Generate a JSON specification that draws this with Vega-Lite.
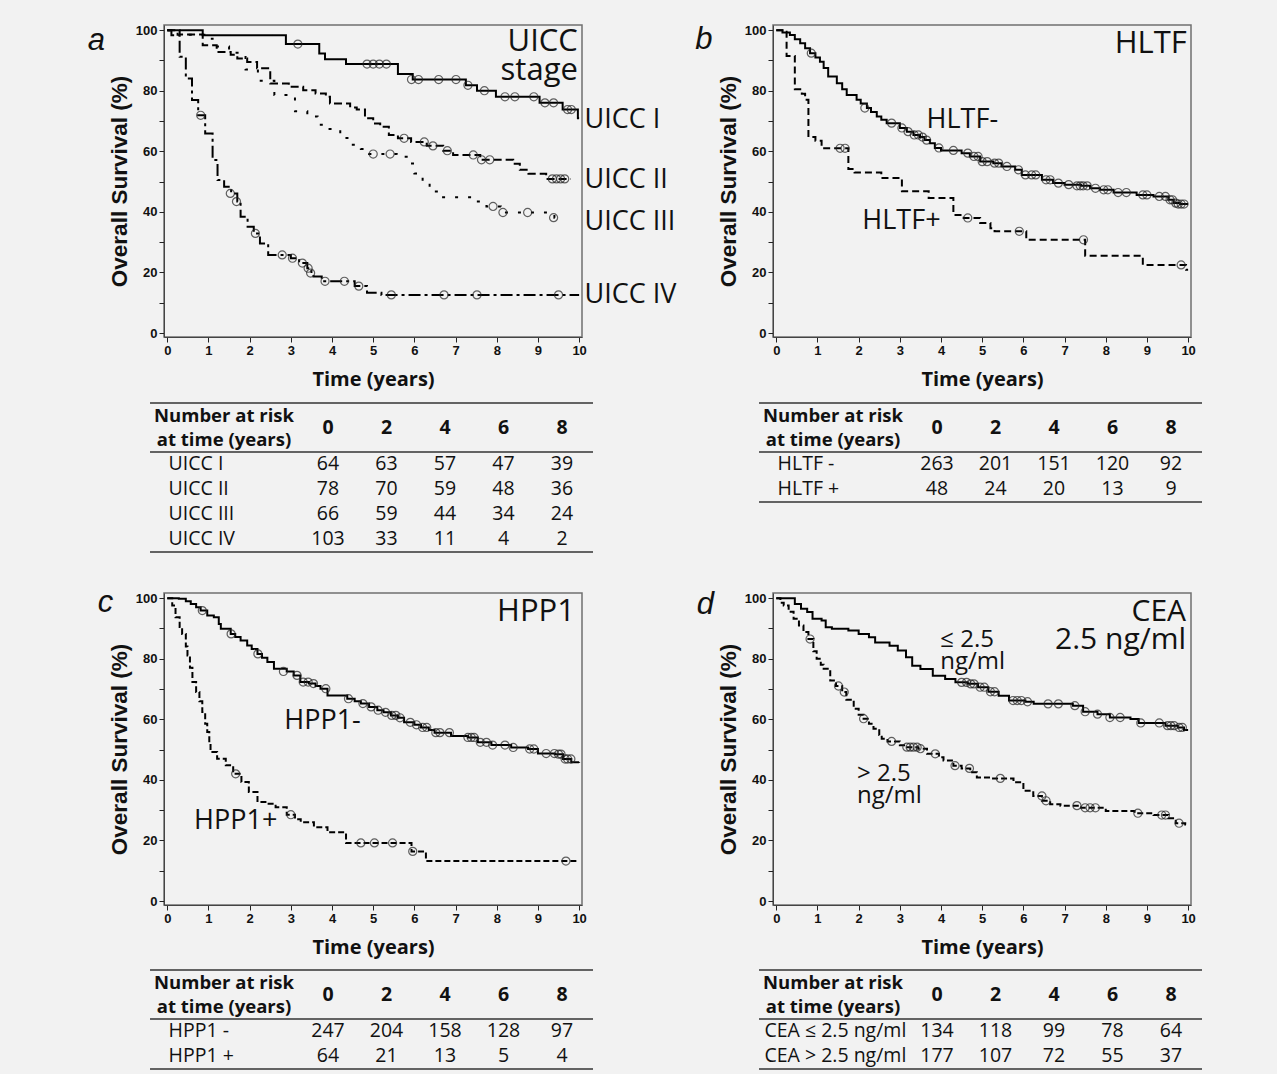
{
"$schema": "https://vega.github.io/schema/vega-lite/v6.json",
"background": "#f2f2f2",
"padding": {"left": 87, "top": 23, "right": 74, "bottom": 4},
"config": {
  "view": {"stroke": "#707070", "strokeWidth": 1.5},
  "axis": {"grid": false, "domainColor": "#444", "tickColor": "#222", "labelColor": "#111", "titleColor": "#111"},
  "text": {"font": "Open Sans", "color": "#111"}
},
"resolve": {"scale": {"strokeDash": "independent"}},
"datasets": {
"curves": [
{"p":"a","g":"UICC I","t":0,"s":100},{"p":"a","g":"UICC I","t":0.86,"s":98.3},{"p":"a","g":"UICC I","t":2.88,"s":95.4},{"p":"a","g":"UICC I","t":3.69,"s":92.3},{"p":"a","g":"UICC I","t":3.83,"s":90.4},{"p":"a","g":"UICC I","t":4.34,"s":88.8},{"p":"a","g":"UICC I","t":5.6,"s":85.5},{"p":"a","g":"UICC I","t":5.96,"s":83.7},{"p":"a","g":"UICC I","t":7.25,"s":81.8},{"p":"a","g":"UICC I","t":7.52,"s":80},{"p":"a","g":"UICC I","t":7.98,"s":78},{"p":"a","g":"UICC I","t":9.04,"s":76},{"p":"a","g":"UICC I","t":9.6,"s":73.8},{"p":"a","g":"UICC I","t":9.97,"s":70.9},{"p":"a","g":"UICC I","t":10,"s":70.9},
{"p":"a","g":"UICC II","t":0,"s":100},{"p":"a","g":"UICC II","t":0.3,"s":98.6},{"p":"a","g":"UICC II","t":0.86,"s":95},{"p":"a","g":"UICC II","t":1.2,"s":92.8},{"p":"a","g":"UICC II","t":1.54,"s":91.9},{"p":"a","g":"UICC II","t":1.7,"s":90.6},{"p":"a","g":"UICC II","t":1.94,"s":89.5},{"p":"a","g":"UICC II","t":2.18,"s":87.4},{"p":"a","g":"UICC II","t":2.5,"s":82.4},{"p":"a","g":"UICC II","t":2.95,"s":81.3},{"p":"a","g":"UICC II","t":3.3,"s":80.2},{"p":"a","g":"UICC II","t":3.6,"s":79.1},{"p":"a","g":"UICC II","t":3.85,"s":78},{"p":"a","g":"UICC II","t":3.95,"s":75.8},{"p":"a","g":"UICC II","t":4.44,"s":74.5},{"p":"a","g":"UICC II","t":4.6,"s":73.8},{"p":"a","g":"UICC II","t":4.8,"s":70.9},{"p":"a","g":"UICC II","t":5.0,"s":69.2},{"p":"a","g":"UICC II","t":5.17,"s":68.1},{"p":"a","g":"UICC II","t":5.38,"s":65.4},{"p":"a","g":"UICC II","t":5.6,"s":64.3},{"p":"a","g":"UICC II","t":5.92,"s":63.1},{"p":"a","g":"UICC II","t":6.3,"s":61.8},{"p":"a","g":"UICC II","t":6.7,"s":60.2},{"p":"a","g":"UICC II","t":6.94,"s":58.8},{"p":"a","g":"UICC II","t":7.6,"s":57.2},{"p":"a","g":"UICC II","t":8.4,"s":55.9},{"p":"a","g":"UICC II","t":8.56,"s":53.9},{"p":"a","g":"UICC II","t":8.77,"s":52.6},{"p":"a","g":"UICC II","t":9.2,"s":50.9},{"p":"a","g":"UICC II","t":9.8,"s":50.9},
{"p":"a","g":"UICC III","t":0,"s":100},{"p":"a","g":"UICC III","t":0.25,"s":98.5},{"p":"a","g":"UICC III","t":0.9,"s":97.2},{"p":"a","g":"UICC III","t":1.1,"s":94.6},{"p":"a","g":"UICC III","t":1.5,"s":92.5},{"p":"a","g":"UICC III","t":1.9,"s":87},{"p":"a","g":"UICC III","t":2.2,"s":83.3},{"p":"a","g":"UICC III","t":2.6,"s":78.6},{"p":"a","g":"UICC III","t":3.1,"s":73.2},{"p":"a","g":"UICC III","t":3.4,"s":71.5},{"p":"a","g":"UICC III","t":3.65,"s":68.8},{"p":"a","g":"UICC III","t":3.9,"s":67.4},{"p":"a","g":"UICC III","t":4.2,"s":64.4},{"p":"a","g":"UICC III","t":4.45,"s":62.2},{"p":"a","g":"UICC III","t":4.7,"s":60.8},{"p":"a","g":"UICC III","t":4.9,"s":59.1},{"p":"a","g":"UICC III","t":5.57,"s":58.2},{"p":"a","g":"UICC III","t":5.85,"s":56},{"p":"a","g":"UICC III","t":6.0,"s":52.7},{"p":"a","g":"UICC III","t":6.2,"s":50},{"p":"a","g":"UICC III","t":6.37,"s":46.7},{"p":"a","g":"UICC III","t":6.6,"s":44.8},{"p":"a","g":"UICC III","t":7.5,"s":43.4},{"p":"a","g":"UICC III","t":7.75,"s":41.8},{"p":"a","g":"UICC III","t":8.1,"s":39.8},{"p":"a","g":"UICC III","t":9.3,"s":39},{"p":"a","g":"UICC III","t":9.4,"s":38.1},{"p":"a","g":"UICC III","t":9.53,"s":37.4},{"p":"a","g":"UICC III","t":9.6,"s":37.4},
{"p":"a","g":"UICC IV","t":0,"s":100},{"p":"a","g":"UICC IV","t":0.1,"s":98.3},{"p":"a","g":"UICC IV","t":0.3,"s":91.2},{"p":"a","g":"UICC IV","t":0.45,"s":84},{"p":"a","g":"UICC IV","t":0.6,"s":76.9},{"p":"a","g":"UICC IV","t":0.75,"s":71.9},{"p":"a","g":"UICC IV","t":0.92,"s":65.9},{"p":"a","g":"UICC IV","t":1.1,"s":57.1},{"p":"a","g":"UICC IV","t":1.22,"s":50.5},{"p":"a","g":"UICC IV","t":1.38,"s":48.3},{"p":"a","g":"UICC IV","t":1.55,"s":46.1},{"p":"a","g":"UICC IV","t":1.7,"s":43.4},{"p":"a","g":"UICC IV","t":1.78,"s":38.4},{"p":"a","g":"UICC IV","t":1.95,"s":35.1},{"p":"a","g":"UICC IV","t":2.1,"s":32.9},{"p":"a","g":"UICC IV","t":2.25,"s":29.6},{"p":"a","g":"UICC IV","t":2.45,"s":25.8},{"p":"a","g":"UICC IV","t":3.0,"s":24.7},{"p":"a","g":"UICC IV","t":3.2,"s":23.1},{"p":"a","g":"UICC IV","t":3.4,"s":21.4},{"p":"a","g":"UICC IV","t":3.5,"s":19.8},{"p":"a","g":"UICC IV","t":3.55,"s":18.7},{"p":"a","g":"UICC IV","t":3.75,"s":17.1},{"p":"a","g":"UICC IV","t":4.55,"s":15.5},{"p":"a","g":"UICC IV","t":4.85,"s":13.3},{"p":"a","g":"UICC IV","t":5.2,"s":12.6},{"p":"a","g":"UICC IV","t":10,"s":12.6},
{"p":"b","g":"HLTF-","t":0,"s":100},{"p":"b","g":"HLTF-","t":0.15,"s":99.2},{"p":"b","g":"HLTF-","t":0.33,"s":98.4},{"p":"b","g":"HLTF-","t":0.45,"s":97},{"p":"b","g":"HLTF-","t":0.58,"s":95.7},{"p":"b","g":"HLTF-","t":0.7,"s":94},{"p":"b","g":"HLTF-","t":0.82,"s":92.4},{"p":"b","g":"HLTF-","t":0.95,"s":91},{"p":"b","g":"HLTF-","t":1.06,"s":89.6},{"p":"b","g":"HLTF-","t":1.15,"s":87.5},{"p":"b","g":"HLTF-","t":1.26,"s":84.7},{"p":"b","g":"HLTF-","t":1.47,"s":82.5},{"p":"b","g":"HLTF-","t":1.6,"s":80.5},{"p":"b","g":"HLTF-","t":1.71,"s":78.6},{"p":"b","g":"HLTF-","t":1.95,"s":77},{"p":"b","g":"HLTF-","t":2.05,"s":75.8},{"p":"b","g":"HLTF-","t":2.2,"s":74.3},{"p":"b","g":"HLTF-","t":2.3,"s":73},{"p":"b","g":"HLTF-","t":2.44,"s":71.5},{"p":"b","g":"HLTF-","t":2.55,"s":70.4},{"p":"b","g":"HLTF-","t":2.68,"s":69.3},{"p":"b","g":"HLTF-","t":3.0,"s":67.7},{"p":"b","g":"HLTF-","t":3.17,"s":66.5},{"p":"b","g":"HLTF-","t":3.33,"s":65.4},{"p":"b","g":"HLTF-","t":3.49,"s":64.7},{"p":"b","g":"HLTF-","t":3.6,"s":63.7},{"p":"b","g":"HLTF-","t":3.73,"s":62.7},{"p":"b","g":"HLTF-","t":3.85,"s":61.1},{"p":"b","g":"HLTF-","t":4.0,"s":60.3},{"p":"b","g":"HLTF-","t":4.5,"s":59.4},{"p":"b","g":"HLTF-","t":4.7,"s":58.3},{"p":"b","g":"HLTF-","t":4.95,"s":56.6},{"p":"b","g":"HLTF-","t":5.27,"s":56.1},{"p":"b","g":"HLTF-","t":5.47,"s":55},{"p":"b","g":"HLTF-","t":5.8,"s":53.9},{"p":"b","g":"HLTF-","t":5.96,"s":52.2},{"p":"b","g":"HLTF-","t":6.45,"s":50.6},{"p":"b","g":"HLTF-","t":6.72,"s":49.5},{"p":"b","g":"HLTF-","t":7.0,"s":49},{"p":"b","g":"HLTF-","t":7.4,"s":48.6},{"p":"b","g":"HLTF-","t":7.62,"s":47.8},{"p":"b","g":"HLTF-","t":7.86,"s":47.3},{"p":"b","g":"HLTF-","t":8.19,"s":46.4},{"p":"b","g":"HLTF-","t":8.75,"s":45.6},{"p":"b","g":"HLTF-","t":9.16,"s":45.1},{"p":"b","g":"HLTF-","t":9.52,"s":44},{"p":"b","g":"HLTF-","t":9.65,"s":42.9},{"p":"b","g":"HLTF-","t":9.8,"s":42.6},{"p":"b","g":"HLTF-","t":10,"s":42.6},
{"p":"b","g":"HLTF+","t":0,"s":100},{"p":"b","g":"HLTF+","t":0.22,"s":99.5},{"p":"b","g":"HLTF+","t":0.25,"s":91.5},{"p":"b","g":"HLTF+","t":0.45,"s":80.5},{"p":"b","g":"HLTF+","t":0.62,"s":79},{"p":"b","g":"HLTF+","t":0.7,"s":77},{"p":"b","g":"HLTF+","t":0.78,"s":64.7},{"p":"b","g":"HLTF+","t":0.95,"s":63.5},{"p":"b","g":"HLTF+","t":1.1,"s":61},{"p":"b","g":"HLTF+","t":1.75,"s":54.2},{"p":"b","g":"HLTF+","t":1.9,"s":53},{"p":"b","g":"HLTF+","t":2.55,"s":51.2},{"p":"b","g":"HLTF+","t":3.05,"s":46.8},{"p":"b","g":"HLTF+","t":3.7,"s":44.6},{"p":"b","g":"HLTF+","t":4.3,"s":39},{"p":"b","g":"HLTF+","t":4.55,"s":38},{"p":"b","g":"HLTF+","t":4.95,"s":36.3},{"p":"b","g":"HLTF+","t":5.2,"s":34.6},{"p":"b","g":"HLTF+","t":5.3,"s":33.6},{"p":"b","g":"HLTF+","t":6.07,"s":30.8},{"p":"b","g":"HLTF+","t":7.5,"s":25.5},{"p":"b","g":"HLTF+","t":8.9,"s":22.5},{"p":"b","g":"HLTF+","t":9.95,"s":20.9},{"p":"b","g":"HLTF+","t":10,"s":20.9},
{"p":"c","g":"HPP1-","t":0,"s":100},{"p":"c","g":"HPP1-","t":0.28,"s":99.8},{"p":"c","g":"HPP1-","t":0.45,"s":99},{"p":"c","g":"HPP1-","t":0.57,"s":98.1},{"p":"c","g":"HPP1-","t":0.7,"s":97},{"p":"c","g":"HPP1-","t":0.81,"s":95.9},{"p":"c","g":"HPP1-","t":0.97,"s":94.3},{"p":"c","g":"HPP1-","t":1.13,"s":93.7},{"p":"c","g":"HPP1-","t":1.25,"s":91.5},{"p":"c","g":"HPP1-","t":1.3,"s":89.9},{"p":"c","g":"HPP1-","t":1.54,"s":88.2},{"p":"c","g":"HPP1-","t":1.65,"s":87.2},{"p":"c","g":"HPP1-","t":1.78,"s":86},{"p":"c","g":"HPP1-","t":1.94,"s":84.4},{"p":"c","g":"HPP1-","t":2.05,"s":83.2},{"p":"c","g":"HPP1-","t":2.19,"s":81.6},{"p":"c","g":"HPP1-","t":2.3,"s":80.3},{"p":"c","g":"HPP1-","t":2.43,"s":78.9},{"p":"c","g":"HPP1-","t":2.59,"s":76.7},{"p":"c","g":"HPP1-","t":2.9,"s":75.8},{"p":"c","g":"HPP1-","t":3.07,"s":74.5},{"p":"c","g":"HPP1-","t":3.23,"s":72.3},{"p":"c","g":"HPP1-","t":3.44,"s":71.8},{"p":"c","g":"HPP1-","t":3.6,"s":71},{"p":"c","g":"HPP1-","t":3.72,"s":70.1},{"p":"c","g":"HPP1-","t":3.89,"s":67.9},{"p":"c","g":"HPP1-","t":4.37,"s":66.8},{"p":"c","g":"HPP1-","t":4.55,"s":66},{"p":"c","g":"HPP1-","t":4.7,"s":65.2},{"p":"c","g":"HPP1-","t":4.9,"s":64.1},{"p":"c","g":"HPP1-","t":5.1,"s":63},{"p":"c","g":"HPP1-","t":5.25,"s":62.3},{"p":"c","g":"HPP1-","t":5.43,"s":61.3},{"p":"c","g":"HPP1-","t":5.6,"s":60.5},{"p":"c","g":"HPP1-","t":5.75,"s":59},{"p":"c","g":"HPP1-","t":6.0,"s":58.2},{"p":"c","g":"HPP1-","t":6.16,"s":57.3},{"p":"c","g":"HPP1-","t":6.35,"s":56.5},{"p":"c","g":"HPP1-","t":6.49,"s":55.6},{"p":"c","g":"HPP1-","t":6.89,"s":54.5},{"p":"c","g":"HPP1-","t":7.3,"s":54},{"p":"c","g":"HPP1-","t":7.54,"s":52.4},{"p":"c","g":"HPP1-","t":7.87,"s":51.5},{"p":"c","g":"HPP1-","t":8.35,"s":50.7},{"p":"c","g":"HPP1-","t":8.76,"s":50.2},{"p":"c","g":"HPP1-","t":9.0,"s":48.7},{"p":"c","g":"HPP1-","t":9.41,"s":48.5},{"p":"c","g":"HPP1-","t":9.61,"s":46.9},{"p":"c","g":"HPP1-","t":9.81,"s":45.8},{"p":"c","g":"HPP1-","t":10,"s":45.6},
{"p":"c","g":"HPP1+","t":0,"s":100},{"p":"c","g":"HPP1+","t":0.12,"s":97.6},{"p":"c","g":"HPP1+","t":0.2,"s":93.7},{"p":"c","g":"HPP1+","t":0.3,"s":90.5},{"p":"c","g":"HPP1+","t":0.36,"s":88.2},{"p":"c","g":"HPP1+","t":0.45,"s":84},{"p":"c","g":"HPP1+","t":0.49,"s":81.1},{"p":"c","g":"HPP1+","t":0.55,"s":77},{"p":"c","g":"HPP1+","t":0.61,"s":72.3},{"p":"c","g":"HPP1+","t":0.7,"s":69},{"p":"c","g":"HPP1+","t":0.78,"s":66},{"p":"c","g":"HPP1+","t":0.85,"s":62.4},{"p":"c","g":"HPP1+","t":0.92,"s":58.5},{"p":"c","g":"HPP1+","t":0.97,"s":55.8},{"p":"c","g":"HPP1+","t":1.02,"s":52},{"p":"c","g":"HPP1+","t":1.05,"s":49.2},{"p":"c","g":"HPP1+","t":1.21,"s":47},{"p":"c","g":"HPP1+","t":1.42,"s":44.8},{"p":"c","g":"HPP1+","t":1.6,"s":42},{"p":"c","g":"HPP1+","t":1.8,"s":39.3},{"p":"c","g":"HPP1+","t":1.98,"s":36},{"p":"c","g":"HPP1+","t":2.19,"s":32.7},{"p":"c","g":"HPP1+","t":2.43,"s":32.1},{"p":"c","g":"HPP1+","t":2.63,"s":31},{"p":"c","g":"HPP1+","t":2.9,"s":28.5},{"p":"c","g":"HPP1+","t":3.1,"s":27},{"p":"c","g":"HPP1+","t":3.24,"s":26},{"p":"c","g":"HPP1+","t":3.56,"s":24.4},{"p":"c","g":"HPP1+","t":3.89,"s":22.7},{"p":"c","g":"HPP1+","t":4.34,"s":19.2},{"p":"c","g":"HPP1+","t":5.93,"s":16.4},{"p":"c","g":"HPP1+","t":6.28,"s":13.2},{"p":"c","g":"HPP1+","t":10,"s":13.2},
{"p":"d","g":"le","t":0,"s":100},{"p":"d","g":"le","t":0.45,"s":98.1},{"p":"d","g":"le","t":0.6,"s":96.5},{"p":"d","g":"le","t":0.75,"s":95.4},{"p":"d","g":"le","t":0.88,"s":93.2},{"p":"d","g":"le","t":1.1,"s":92.6},{"p":"d","g":"le","t":1.2,"s":90.4},{"p":"d","g":"le","t":1.35,"s":89.9},{"p":"d","g":"le","t":1.75,"s":89.3},{"p":"d","g":"le","t":2.0,"s":88.2},{"p":"d","g":"le","t":2.25,"s":87.1},{"p":"d","g":"le","t":2.4,"s":85.4},{"p":"d","g":"le","t":2.75,"s":84.3},{"p":"d","g":"le","t":2.95,"s":82.7},{"p":"d","g":"le","t":3.15,"s":80.5},{"p":"d","g":"le","t":3.3,"s":77.7},{"p":"d","g":"le","t":3.5,"s":76.6},{"p":"d","g":"le","t":3.8,"s":74.4},{"p":"d","g":"le","t":4.1,"s":73.3},{"p":"d","g":"le","t":4.35,"s":72.2},{"p":"d","g":"le","t":4.65,"s":71.7},{"p":"d","g":"le","t":4.9,"s":70.6},{"p":"d","g":"le","t":5.15,"s":69.1},{"p":"d","g":"le","t":5.4,"s":67.8},{"p":"d","g":"le","t":5.65,"s":66.2},{"p":"d","g":"le","t":6.05,"s":65.8},{"p":"d","g":"le","t":6.25,"s":65.1},{"p":"d","g":"le","t":7.2,"s":64.5},{"p":"d","g":"le","t":7.45,"s":62.5},{"p":"d","g":"le","t":7.8,"s":61.7},{"p":"d","g":"le","t":8.1,"s":60.6},{"p":"d","g":"le","t":8.6,"s":60.1},{"p":"d","g":"le","t":8.8,"s":58.8},{"p":"d","g":"le","t":9.45,"s":57.9},{"p":"d","g":"le","t":9.75,"s":57.3},{"p":"d","g":"le","t":9.9,"s":56.5},{"p":"d","g":"le","t":10,"s":56.5},
{"p":"d","g":"gt","t":0,"s":100},{"p":"d","g":"gt","t":0.1,"s":98.5},{"p":"d","g":"gt","t":0.18,"s":97.6},{"p":"d","g":"gt","t":0.3,"s":95.5},{"p":"d","g":"gt","t":0.42,"s":93.2},{"p":"d","g":"gt","t":0.55,"s":91},{"p":"d","g":"gt","t":0.66,"s":88.8},{"p":"d","g":"gt","t":0.78,"s":86.5},{"p":"d","g":"gt","t":0.9,"s":82.5},{"p":"d","g":"gt","t":0.98,"s":80},{"p":"d","g":"gt","t":1.08,"s":78},{"p":"d","g":"gt","t":1.15,"s":76.7},{"p":"d","g":"gt","t":1.31,"s":72.8},{"p":"d","g":"gt","t":1.45,"s":71},{"p":"d","g":"gt","t":1.6,"s":69},{"p":"d","g":"gt","t":1.7,"s":66.5},{"p":"d","g":"gt","t":1.88,"s":63.5},{"p":"d","g":"gt","t":2.0,"s":61.5},{"p":"d","g":"gt","t":2.12,"s":60.2},{"p":"d","g":"gt","t":2.25,"s":58.5},{"p":"d","g":"gt","t":2.36,"s":56.9},{"p":"d","g":"gt","t":2.5,"s":54.8},{"p":"d","g":"gt","t":2.56,"s":53.6},{"p":"d","g":"gt","t":2.7,"s":52.7},{"p":"d","g":"gt","t":3.0,"s":51.4},{"p":"d","g":"gt","t":3.15,"s":50.8},{"p":"d","g":"gt","t":3.45,"s":50.3},{"p":"d","g":"gt","t":3.66,"s":48.6},{"p":"d","g":"gt","t":3.95,"s":47.5},{"p":"d","g":"gt","t":4.06,"s":46.4},{"p":"d","g":"gt","t":4.3,"s":44.7},{"p":"d","g":"gt","t":4.5,"s":43.8},{"p":"d","g":"gt","t":4.71,"s":42.5},{"p":"d","g":"gt","t":4.87,"s":40.8},{"p":"d","g":"gt","t":5.2,"s":40.5},{"p":"d","g":"gt","t":5.76,"s":39.2},{"p":"d","g":"gt","t":6.0,"s":36.4},{"p":"d","g":"gt","t":6.24,"s":34.7},{"p":"d","g":"gt","t":6.45,"s":33.1},{"p":"d","g":"gt","t":6.65,"s":32},{"p":"d","g":"gt","t":6.9,"s":31.5},{"p":"d","g":"gt","t":7.4,"s":30.8},{"p":"d","g":"gt","t":8.0,"s":29.7},{"p":"d","g":"gt","t":8.7,"s":29},{"p":"d","g":"gt","t":9.16,"s":28.4},{"p":"d","g":"gt","t":9.52,"s":27.3},{"p":"d","g":"gt","t":9.7,"s":25.7},{"p":"d","g":"gt","t":9.93,"s":25.3},{"p":"d","g":"gt","t":10,"s":25.3}
],
"cens": [
{"p":"a","t":3.17,"s":95.4},{"p":"a","t":4.85,"s":88.8},{"p":"a","t":5.0,"s":88.8},{"p":"a","t":5.15,"s":88.8},{"p":"a","t":5.32,"s":88.8},{"p":"a","t":5.93,"s":83.7},{"p":"a","t":6.1,"s":83.7},{"p":"a","t":6.59,"s":83.7},{"p":"a","t":7.01,"s":83.7},{"p":"a","t":7.3,"s":81.8},{"p":"a","t":7.7,"s":80},{"p":"a","t":8.2,"s":78},{"p":"a","t":8.44,"s":78},{"p":"a","t":8.9,"s":78},{"p":"a","t":9.17,"s":76},{"p":"a","t":9.38,"s":76},{"p":"a","t":9.72,"s":73.8},{"p":"a","t":9.81,"s":73.8},
{"p":"a","t":5.75,"s":64.3},{"p":"a","t":6.24,"s":63.1},{"p":"a","t":6.45,"s":61.8},{"p":"a","t":6.8,"s":60.2},{"p":"a","t":7.43,"s":58.8},{"p":"a","t":7.63,"s":57.2},{"p":"a","t":7.83,"s":57.2},{"p":"a","t":9.35,"s":50.9},{"p":"a","t":9.45,"s":50.9},{"p":"a","t":9.55,"s":50.9},{"p":"a","t":9.65,"s":50.9},
{"p":"a","t":5.0,"s":59.1},{"p":"a","t":5.41,"s":59.1},{"p":"a","t":7.91,"s":41.8},{"p":"a","t":8.15,"s":39.8},{"p":"a","t":8.75,"s":39.8},{"p":"a","t":9.38,"s":38.1},
{"p":"a","t":0.81,"s":71.9},{"p":"a","t":1.53,"s":46.1},{"p":"a","t":1.68,"s":43.4},{"p":"a","t":2.14,"s":32.9},{"p":"a","t":2.79,"s":25.8},{"p":"a","t":3.04,"s":24.7},{"p":"a","t":3.28,"s":23.1},{"p":"a","t":3.42,"s":21.4},{"p":"a","t":3.48,"s":19.8},{"p":"a","t":3.83,"s":17.1},{"p":"a","t":4.3,"s":17.1},{"p":"a","t":4.65,"s":15.5},{"p":"a","t":5.44,"s":12.6},{"p":"a","t":6.72,"s":12.6},{"p":"a","t":7.52,"s":12.6},{"p":"a","t":9.5,"s":12.6},
{"p":"b","t":0.85,"s":92.4},{"p":"b","t":2.15,"s":74.3},{"p":"b","t":2.8,"s":69.3},{"p":"b","t":3.05,"s":67.7},{"p":"b","t":3.2,"s":66.5},{"p":"b","t":3.35,"s":65.4},{"p":"b","t":3.45,"s":65.4},{"p":"b","t":3.55,"s":64.7},{"p":"b","t":3.65,"s":63.7},{"p":"b","t":3.95,"s":61.1},{"p":"b","t":4.3,"s":60.3},{"p":"b","t":4.65,"s":59.4},{"p":"b","t":4.8,"s":58.3},{"p":"b","t":4.9,"s":58.3},{"p":"b","t":5.0,"s":56.6},{"p":"b","t":5.12,"s":56.6},{"p":"b","t":5.3,"s":56.1},{"p":"b","t":5.4,"s":56.1},{"p":"b","t":5.6,"s":55},{"p":"b","t":5.88,"s":53.9},{"p":"b","t":6.05,"s":52.2},{"p":"b","t":6.2,"s":52.2},{"p":"b","t":6.3,"s":52.2},{"p":"b","t":6.55,"s":50.6},{"p":"b","t":6.65,"s":50.6},{"p":"b","t":6.85,"s":49.5},{"p":"b","t":7.1,"s":49},{"p":"b","t":7.3,"s":48.6},{"p":"b","t":7.38,"s":48.6},{"p":"b","t":7.45,"s":48.6},{"p":"b","t":7.55,"s":48.6},{"p":"b","t":7.75,"s":47.8},{"p":"b","t":7.95,"s":47.3},{"p":"b","t":8.05,"s":47.3},{"p":"b","t":8.3,"s":46.4},{"p":"b","t":8.5,"s":46.4},{"p":"b","t":8.9,"s":45.6},{"p":"b","t":9.0,"s":45.6},{"p":"b","t":9.3,"s":45.1},{"p":"b","t":9.45,"s":45.1},{"p":"b","t":9.56,"s":44},{"p":"b","t":9.62,"s":44},{"p":"b","t":9.7,"s":42.9},{"p":"b","t":9.76,"s":42.6},{"p":"b","t":9.83,"s":42.6},{"p":"b","t":9.9,"s":42.6},
{"p":"b","t":1.55,"s":61},{"p":"b","t":1.67,"s":61},{"p":"b","t":4.65,"s":38},{"p":"b","t":5.9,"s":33.6},{"p":"b","t":7.46,"s":30.8},{"p":"b","t":9.83,"s":22.5},
{"p":"c","t":0.85,"s":95.9},{"p":"c","t":1.55,"s":88.2},{"p":"c","t":2.2,"s":81.6},{"p":"c","t":2.82,"s":75.8},{"p":"c","t":3.15,"s":74.5},{"p":"c","t":3.3,"s":72.3},{"p":"c","t":3.42,"s":72.3},{"p":"c","t":3.55,"s":71.8},{"p":"c","t":3.85,"s":70.1},{"p":"c","t":4.4,"s":66.8},{"p":"c","t":4.75,"s":65.2},{"p":"c","t":4.95,"s":64.1},{"p":"c","t":5.12,"s":63},{"p":"c","t":5.3,"s":62.3},{"p":"c","t":5.45,"s":61.3},{"p":"c","t":5.55,"s":61.3},{"p":"c","t":5.65,"s":60.5},{"p":"c","t":5.9,"s":59},{"p":"c","t":6.05,"s":58.2},{"p":"c","t":6.2,"s":57.3},{"p":"c","t":6.3,"s":57.3},{"p":"c","t":6.52,"s":55.6},{"p":"c","t":6.62,"s":55.6},{"p":"c","t":6.85,"s":55.6},{"p":"c","t":7.3,"s":54},{"p":"c","t":7.38,"s":54},{"p":"c","t":7.45,"s":54},{"p":"c","t":7.6,"s":52.4},{"p":"c","t":7.75,"s":52.4},{"p":"c","t":7.9,"s":51.5},{"p":"c","t":8.2,"s":51.5},{"p":"c","t":8.4,"s":50.7},{"p":"c","t":8.8,"s":50.2},{"p":"c","t":8.9,"s":50.2},{"p":"c","t":9.2,"s":48.7},{"p":"c","t":9.4,"s":48.7},{"p":"c","t":9.5,"s":48.5},{"p":"c","t":9.56,"s":48.5},{"p":"c","t":9.66,"s":46.9},{"p":"c","t":9.72,"s":46.9},{"p":"c","t":9.8,"s":46.9},
{"p":"c","t":1.66,"s":42},{"p":"c","t":3.0,"s":28.5},{"p":"c","t":4.7,"s":19.2},{"p":"c","t":5.03,"s":19.2},{"p":"c","t":5.47,"s":19.2},{"p":"c","t":5.96,"s":16.4},{"p":"c","t":9.68,"s":13.2},
{"p":"d","t":4.5,"s":72.2},{"p":"d","t":4.62,"s":72.2},{"p":"d","t":4.72,"s":71.7},{"p":"d","t":4.8,"s":71.7},{"p":"d","t":4.95,"s":70.6},{"p":"d","t":5.05,"s":70.6},{"p":"d","t":5.2,"s":69.1},{"p":"d","t":5.3,"s":69.1},{"p":"d","t":5.75,"s":66.2},{"p":"d","t":5.85,"s":66.2},{"p":"d","t":5.95,"s":66.2},{"p":"d","t":6.1,"s":65.8},{"p":"d","t":6.6,"s":65.1},{"p":"d","t":6.85,"s":65.1},{"p":"d","t":7.25,"s":64.5},{"p":"d","t":7.5,"s":62.5},{"p":"d","t":7.8,"s":61.7},{"p":"d","t":8.1,"s":60.6},{"p":"d","t":8.35,"s":60.6},{"p":"d","t":8.85,"s":58.8},{"p":"d","t":9.3,"s":58.8},{"p":"d","t":9.5,"s":57.9},{"p":"d","t":9.58,"s":57.9},{"p":"d","t":9.66,"s":57.9},{"p":"d","t":9.78,"s":57.3},{"p":"d","t":9.86,"s":57.3},
{"p":"d","t":0.82,"s":86.5},{"p":"d","t":1.51,"s":71},{"p":"d","t":1.65,"s":69},{"p":"d","t":2.12,"s":60.2},{"p":"d","t":2.8,"s":52.7},{"p":"d","t":3.17,"s":50.8},{"p":"d","t":3.25,"s":50.8},{"p":"d","t":3.33,"s":50.8},{"p":"d","t":3.42,"s":50.8},{"p":"d","t":3.5,"s":50.3},{"p":"d","t":3.86,"s":48.6},{"p":"d","t":4.34,"s":44.7},{"p":"d","t":4.69,"s":43.8},{"p":"d","t":5.44,"s":40.5},{"p":"d","t":6.45,"s":34.7},{"p":"d","t":6.55,"s":33.1},{"p":"d","t":7.3,"s":31.5},{"p":"d","t":7.5,"s":30.8},{"p":"d","t":7.62,"s":30.8},{"p":"d","t":7.75,"s":30.8},{"p":"d","t":8.78,"s":29},{"p":"d","t":9.36,"s":28.4},{"p":"d","t":9.45,"s":28.4},{"p":"d","t":9.78,"s":25.7}
],
"notes": [
{"p":"a","k":"title","t":9.97,"s":93.1,"txt":"UICC\nstage"},
{"p":"a","k":"curve","t":10.13,"s":67.6,"txt":"UICC I"},{"p":"a","k":"curve","t":10.13,"s":47.8,"txt":"UICC II"},{"p":"a","k":"curve","t":10.13,"s":34.0,"txt":"UICC III"},{"p":"a","k":"curve","t":10.13,"s":9.8,"txt":"UICC IV"},
{"p":"a","k":"letter","t":-1.93,"s":93.4,"txt":"a"},
{"p":"b","k":"title","t":9.97,"s":92.4,"txt":"HLTF"},
{"p":"b","k":"curve","t":3.65,"s":67.6,"txt":"HLTF-"},{"p":"b","k":"curve","t":2.09,"s":34.3,"txt":"HLTF+"},
{"p":"b","k":"letter","t":-1.97,"s":93.7,"txt":"b"},
{"p":"c","k":"title","t":9.9,"s":92.3,"txt":"HPP1"},
{"p":"c","k":"curve","t":2.84,"s":56.8,"txt":"HPP1-"},{"p":"c","k":"curve","t":0.65,"s":23.7,"txt":"HPP1+"},
{"p":"c","k":"letter","t":-1.69,"s":95.3,"txt":"c"},
{"p":"d","k":"title","t":9.95,"s":92.3,"txt":"CEA\n2.5 ng/ml"},
{"p":"d","k":"small","t":3.98,"s":84.0,"txt":"≤ 2.5\nng/ml"},
{"p":"d","k":"small","t":1.96,"s":39.7,"txt":"> 2.5\nng/ml"},
{"p":"d","k":"letter","t":-1.93,"s":94.9,"txt":"d"}
],
"risk": [
{"p":"a","row":1,"col":0,"v":"64"},{"p":"a","row":1,"col":2,"v":"63"},{"p":"a","row":1,"col":4,"v":"57"},{"p":"a","row":1,"col":6,"v":"47"},{"p":"a","row":1,"col":8,"v":"39"},
{"p":"a","row":2,"col":0,"v":"78"},{"p":"a","row":2,"col":2,"v":"70"},{"p":"a","row":2,"col":4,"v":"59"},{"p":"a","row":2,"col":6,"v":"48"},{"p":"a","row":2,"col":8,"v":"36"},
{"p":"a","row":3,"col":0,"v":"66"},{"p":"a","row":3,"col":2,"v":"59"},{"p":"a","row":3,"col":4,"v":"44"},{"p":"a","row":3,"col":6,"v":"34"},{"p":"a","row":3,"col":8,"v":"24"},
{"p":"a","row":4,"col":0,"v":"103"},{"p":"a","row":4,"col":2,"v":"33"},{"p":"a","row":4,"col":4,"v":"11"},{"p":"a","row":4,"col":6,"v":"4"},{"p":"a","row":4,"col":8,"v":"2"},
{"p":"b","row":1,"col":0,"v":"263"},{"p":"b","row":1,"col":2,"v":"201"},{"p":"b","row":1,"col":4,"v":"151"},{"p":"b","row":1,"col":6,"v":"120"},{"p":"b","row":1,"col":8,"v":"92"},
{"p":"b","row":2,"col":0,"v":"48"},{"p":"b","row":2,"col":2,"v":"24"},{"p":"b","row":2,"col":4,"v":"20"},{"p":"b","row":2,"col":6,"v":"13"},{"p":"b","row":2,"col":8,"v":"9"},
{"p":"c","row":1,"col":0,"v":"247"},{"p":"c","row":1,"col":2,"v":"204"},{"p":"c","row":1,"col":4,"v":"158"},{"p":"c","row":1,"col":6,"v":"128"},{"p":"c","row":1,"col":8,"v":"97"},
{"p":"c","row":2,"col":0,"v":"64"},{"p":"c","row":2,"col":2,"v":"21"},{"p":"c","row":2,"col":4,"v":"13"},{"p":"c","row":2,"col":6,"v":"5"},{"p":"c","row":2,"col":8,"v":"4"},
{"p":"d","row":1,"col":0,"v":"134"},{"p":"d","row":1,"col":2,"v":"118"},{"p":"d","row":1,"col":4,"v":"99"},{"p":"d","row":1,"col":6,"v":"78"},{"p":"d","row":1,"col":8,"v":"64"},
{"p":"d","row":2,"col":0,"v":"177"},{"p":"d","row":2,"col":2,"v":"107"},{"p":"d","row":2,"col":4,"v":"72"},{"p":"d","row":2,"col":6,"v":"55"},{"p":"d","row":2,"col":8,"v":"37"}
],
"rlab": [
{"p":"a","row":1,"lab":"UICC I"},{"p":"a","row":2,"lab":"UICC II"},{"p":"a","row":3,"lab":"UICC III"},{"p":"a","row":4,"lab":"UICC IV"},
{"p":"b","row":1,"lab":"HLTF -"},{"p":"b","row":2,"lab":"HLTF +"},
{"p":"c","row":1,"lab":"HPP1 -"},{"p":"c","row":2,"lab":"HPP1 +"},
{"p":"d","row":1,"lab":"CEA ≤ 2.5 ng/ml"},{"p":"d","row":2,"lab":"CEA > 2.5 ng/ml"}
]
},
"columns": 2,
"align": "each",
"bounds": "flush",
"spacing": {"row": 40, "column": 191},
"concat": [
{
 "width": 418, "height": 312,
 "encoding": {
  "x": {"field": "t", "type": "quantitative", "title": "Time (years)", "scale": {"domain": [-0.08, 10.07], "nice": false, "zero": false},
        "axis": {"values": [0,0.5,1,1.5,2,2.5,3,3.5,4,4.5,5,5.5,6,6.5,7,7.5,8,8.5,9,9.5,10], "format": "d", "labelExpr": "datum.value % 1 === 0 ? datum.label : ''", "labelOverlap": false, "labelFont": "Liberation Sans", "labelFontWeight": "bold", "labelFontSize": 13, "tickSize": 5, "labelPadding": 2, "titleFont": "Open Sans", "titleFontSize": 20, "titleFontWeight": "bold", "titlePadding": 12}},
  "y": {"field": "s", "type": "quantitative", "title": "Overall Survival (%)", "scale": {"domain": [-1.3, 101.7], "nice": false, "zero": false},
        "axis": {"values": [0,10,20,30,40,50,60,70,80,90,100], "format": "d", "labelExpr": "datum.value % 20 === 0 ? datum.label : ''", "labelOverlap": false, "labelFont": "Liberation Sans", "labelFontWeight": "bold", "labelFontSize": 13, "tickSize": 5, "labelPadding": 2, "titleFont": "Liberation Sans", "titleFontSize": 22.5, "titleFontWeight": "bold", "titlePadding": 4}}
 },
 "layer": [
  {"data": {"name": "curves"}, "transform": [{"filter": "datum.p == 'a'"}], "mark": {"type": "line", "interpolate": "step-after", "color": "black", "strokeWidth": 2},
   "encoding": {"detail": {"field": "g"}, "strokeDash": {"field": "g", "type": "nominal", "legend": null, "scale": {"domain": ["UICC I","UICC II","UICC III","UICC IV"], "range": [[1,0],[8,4],[3,10],[12,4,3,4]]}}}},
  {"data": {"name": "cens"}, "transform": [{"filter": "datum.p == 'a'"}], "mark": {"type": "point", "shape": "circle", "filled": false, "stroke": "#222", "strokeWidth": 1.2, "size": 65}},
  {"data": {"name": "notes"}, "transform": [{"filter": "datum.p == 'a' && datum.k == 'title'"}], "mark": {"type": "text", "align": "right", "baseline": "alphabetic", "fontSize": 31, "lineBreak": "\n", "lineHeight": 29}, "encoding": {"text": {"field": "txt"}}},
  {"data": {"name": "notes"}, "transform": [{"filter": "datum.p == 'a' && datum.k == 'curve'"}], "mark": {"type": "text", "align": "left", "baseline": "alphabetic", "fontSize": 27}, "encoding": {"text": {"field": "txt"}}},
  {"data": {"name": "notes"}, "transform": [{"filter": "datum.p == 'a' && datum.k == 'letter'"}], "mark": {"type": "text", "align": "left", "baseline": "alphabetic", "fontSize": 31, "fontStyle": "italic", "font": "Liberation Sans"}, "encoding": {"text": {"field": "txt"}}}
 ]
},
{
 "width": 418, "height": 312,
 "encoding": {
  "x": {"field": "t", "type": "quantitative", "title": "Time (years)", "scale": {"domain": [-0.08, 10.07], "nice": false, "zero": false},
        "axis": {"values": [0,0.5,1,1.5,2,2.5,3,3.5,4,4.5,5,5.5,6,6.5,7,7.5,8,8.5,9,9.5,10], "format": "d", "labelExpr": "datum.value % 1 === 0 ? datum.label : ''", "labelOverlap": false, "labelFont": "Liberation Sans", "labelFontWeight": "bold", "labelFontSize": 13, "tickSize": 5, "labelPadding": 2, "titleFont": "Open Sans", "titleFontSize": 20, "titleFontWeight": "bold", "titlePadding": 12}},
  "y": {"field": "s", "type": "quantitative", "title": "Overall Survival (%)", "scale": {"domain": [-1.3, 101.7], "nice": false, "zero": false},
        "axis": {"values": [0,10,20,30,40,50,60,70,80,90,100], "format": "d", "labelExpr": "datum.value % 20 === 0 ? datum.label : ''", "labelOverlap": false, "labelFont": "Liberation Sans", "labelFontWeight": "bold", "labelFontSize": 13, "tickSize": 5, "labelPadding": 2, "titleFont": "Liberation Sans", "titleFontSize": 22.5, "titleFontWeight": "bold", "titlePadding": 4}}
 },
 "layer": [
  {"data": {"name": "curves"}, "transform": [{"filter": "datum.p == 'b'"}], "mark": {"type": "line", "interpolate": "step-after", "color": "black", "strokeWidth": 2},
   "encoding": {"detail": {"field": "g"}, "strokeDash": {"field": "g", "type": "nominal", "legend": null, "scale": {"domain": ["HLTF-","HLTF+"], "range": [[1,0],[7,4]]}}}},
  {"data": {"name": "cens"}, "transform": [{"filter": "datum.p == 'b'"}], "mark": {"type": "point", "shape": "circle", "filled": false, "stroke": "#222", "strokeWidth": 1.2, "size": 65}},
  {"data": {"name": "notes"}, "transform": [{"filter": "datum.p == 'b' && datum.k == 'title'"}], "mark": {"type": "text", "align": "right", "baseline": "alphabetic", "fontSize": 31}, "encoding": {"text": {"field": "txt"}}},
  {"data": {"name": "notes"}, "transform": [{"filter": "datum.p == 'b' && datum.k == 'curve'"}], "mark": {"type": "text", "align": "left", "baseline": "alphabetic", "fontSize": 27}, "encoding": {"text": {"field": "txt"}}},
  {"data": {"name": "notes"}, "transform": [{"filter": "datum.p == 'b' && datum.k == 'letter'"}], "mark": {"type": "text", "align": "left", "baseline": "alphabetic", "fontSize": 31, "fontStyle": "italic", "font": "Liberation Sans"}, "encoding": {"text": {"field": "txt"}}}
 ]
},
{
 "width": 418, "height": 176, "view": {"stroke": null},
 "layer": [
  {"data": {"name": "risk"}, "transform": [{"filter": "datum.p == 'a'"}], "mark": {"type": "text", "fontSize": 19.5},
   "encoding": {"x": {"field": "col", "type": "quantitative", "scale": {"domain": [-5.607, 8.684], "nice": false, "zero": false}, "axis": null},
                "y": {"field": "row", "type": "quantitative", "scale": {"domain": [-2.48, 4.56], "nice": false, "zero": false, "reverse": true}, "axis": null},
                "text": {"field": "v", "type": "nominal"}}},
  {"data": {"name": "risk"}, "transform": [{"filter": "datum.p == 'a' && datum.row == 1"}], "mark": {"type": "text", "fontSize": 19.5, "fontWeight": "bold"},
   "encoding": {"x": {"field": "col", "type": "quantitative"}, "y": {"datum": -0.44, "type": "quantitative"}, "text": {"field": "col", "type": "nominal"}}},
  {"data": {"name": "rlab"}, "transform": [{"filter": "datum.p == 'a'"}], "mark": {"type": "text", "align": "left", "fontSize": 19.5},
   "encoding": {"x": {"datum": -5.45, "type": "quantitative"}, "y": {"field": "row", "type": "quantitative"}, "text": {"field": "lab", "type": "nominal"}}},
  {"data": {"name": "rlab"}, "transform": [{"filter": "datum.p == 'a' && datum.row == 1"}], "mark": {"type": "text", "text": "Number at risk", "fontSize": 18.5, "fontWeight": "bold"},
   "encoding": {"x": {"datum": -3.556, "type": "quantitative"}, "y": {"datum": -0.92, "type": "quantitative"}}},
  {"data": {"name": "rlab"}, "transform": [{"filter": "datum.p == 'a' && datum.row == 1"}], "mark": {"type": "text", "text": "at time (years)", "fontSize": 18.5, "fontWeight": "bold"},
   "encoding": {"x": {"datum": -3.556, "type": "quantitative"}, "y": {"datum": 0.04, "type": "quantitative"}}},
  {"data": {"name": "rlab"}, "transform": [{"filter": "datum.p == 'a' && datum.row == 1"}], "mark": {"type": "rule", "color": "#333", "strokeWidth": 1.5},
   "encoding": {"x": {"datum": -6.085, "type": "quantitative"}, "x2": {"datum": 9.06}, "y": {"datum": -1.44, "type": "quantitative"}}},
  {"data": {"name": "rlab"}, "transform": [{"filter": "datum.p == 'a' && datum.row == 1"}], "mark": {"type": "rule", "color": "#333", "strokeWidth": 1.5},
   "encoding": {"x": {"datum": -6.085, "type": "quantitative"}, "x2": {"datum": 9.06}, "y": {"datum": 0.52, "type": "quantitative"}}},
  {"data": {"name": "rlab"}, "transform": [{"filter": "datum.p == 'a' && datum.row == 1"}], "mark": {"type": "rule", "color": "#333", "strokeWidth": 1.5},
   "encoding": {"x": {"datum": -6.085, "type": "quantitative"}, "x2": {"datum": 9.06}, "y": {"datum": 4.52, "type": "quantitative"}}}
 ]
},
{
 "width": 418, "height": 126, "view": {"stroke": null},
 "layer": [
  {"data": {"name": "risk"}, "transform": [{"filter": "datum.p == 'b'"}], "mark": {"type": "text", "fontSize": 19.5},
   "encoding": {"x": {"field": "col", "type": "quantitative", "scale": {"domain": [-5.607, 8.684], "nice": false, "zero": false}, "axis": null},
                "y": {"field": "row", "type": "quantitative", "scale": {"domain": [-2.48, 2.56], "nice": false, "zero": false, "reverse": true}, "axis": null},
                "text": {"field": "v", "type": "nominal"}}},
  {"data": {"name": "risk"}, "transform": [{"filter": "datum.p == 'b' && datum.row == 1"}], "mark": {"type": "text", "fontSize": 19.5, "fontWeight": "bold"},
   "encoding": {"x": {"field": "col", "type": "quantitative"}, "y": {"datum": -0.44, "type": "quantitative"}, "text": {"field": "col", "type": "nominal"}}},
  {"data": {"name": "rlab"}, "transform": [{"filter": "datum.p == 'b'"}], "mark": {"type": "text", "align": "left", "fontSize": 19.5},
   "encoding": {"x": {"datum": -5.45, "type": "quantitative"}, "y": {"field": "row", "type": "quantitative"}, "text": {"field": "lab", "type": "nominal"}}},
  {"data": {"name": "rlab"}, "transform": [{"filter": "datum.p == 'b' && datum.row == 1"}], "mark": {"type": "text", "text": "Number at risk", "fontSize": 18.5, "fontWeight": "bold"},
   "encoding": {"x": {"datum": -3.556, "type": "quantitative"}, "y": {"datum": -0.92, "type": "quantitative"}}},
  {"data": {"name": "rlab"}, "transform": [{"filter": "datum.p == 'b' && datum.row == 1"}], "mark": {"type": "text", "text": "at time (years)", "fontSize": 18.5, "fontWeight": "bold"},
   "encoding": {"x": {"datum": -3.556, "type": "quantitative"}, "y": {"datum": 0.04, "type": "quantitative"}}},
  {"data": {"name": "rlab"}, "transform": [{"filter": "datum.p == 'b' && datum.row == 1"}], "mark": {"type": "rule", "color": "#333", "strokeWidth": 1.5},
   "encoding": {"x": {"datum": -6.085, "type": "quantitative"}, "x2": {"datum": 9.06}, "y": {"datum": -1.44, "type": "quantitative"}}},
  {"data": {"name": "rlab"}, "transform": [{"filter": "datum.p == 'b' && datum.row == 1"}], "mark": {"type": "rule", "color": "#333", "strokeWidth": 1.5},
   "encoding": {"x": {"datum": -6.085, "type": "quantitative"}, "x2": {"datum": 9.06}, "y": {"datum": 0.52, "type": "quantitative"}}},
  {"data": {"name": "rlab"}, "transform": [{"filter": "datum.p == 'b' && datum.row == 1"}], "mark": {"type": "rule", "color": "#333", "strokeWidth": 1.5},
   "encoding": {"x": {"datum": -6.085, "type": "quantitative"}, "x2": {"datum": 9.06}, "y": {"datum": 2.52, "type": "quantitative"}}}
 ]
},
{
 "width": 418, "height": 312,
 "encoding": {
  "x": {"field": "t", "type": "quantitative", "title": "Time (years)", "scale": {"domain": [-0.08, 10.07], "nice": false, "zero": false},
        "axis": {"values": [0,0.5,1,1.5,2,2.5,3,3.5,4,4.5,5,5.5,6,6.5,7,7.5,8,8.5,9,9.5,10], "format": "d", "labelExpr": "datum.value % 1 === 0 ? datum.label : ''", "labelOverlap": false, "labelFont": "Liberation Sans", "labelFontWeight": "bold", "labelFontSize": 13, "tickSize": 5, "labelPadding": 2, "titleFont": "Open Sans", "titleFontSize": 20, "titleFontWeight": "bold", "titlePadding": 12}},
  "y": {"field": "s", "type": "quantitative", "title": "Overall Survival (%)", "scale": {"domain": [-1.3, 101.7], "nice": false, "zero": false},
        "axis": {"values": [0,10,20,30,40,50,60,70,80,90,100], "format": "d", "labelExpr": "datum.value % 20 === 0 ? datum.label : ''", "labelOverlap": false, "labelFont": "Liberation Sans", "labelFontWeight": "bold", "labelFontSize": 13, "tickSize": 5, "labelPadding": 2, "titleFont": "Liberation Sans", "titleFontSize": 22.5, "titleFontWeight": "bold", "titlePadding": 4}}
 },
 "layer": [
  {"data": {"name": "curves"}, "transform": [{"filter": "datum.p == 'c'"}], "mark": {"type": "line", "interpolate": "step-after", "color": "black", "strokeWidth": 2},
   "encoding": {"detail": {"field": "g"}, "strokeDash": {"field": "g", "type": "nominal", "legend": null, "scale": {"domain": ["HPP1-","HPP1+"], "range": [[1,0],[6,3]]}}}},
  {"data": {"name": "cens"}, "transform": [{"filter": "datum.p == 'c'"}], "mark": {"type": "point", "shape": "circle", "filled": false, "stroke": "#222", "strokeWidth": 1.2, "size": 65}},
  {"data": {"name": "notes"}, "transform": [{"filter": "datum.p == 'c' && datum.k == 'title'"}], "mark": {"type": "text", "align": "right", "baseline": "alphabetic", "fontSize": 31}, "encoding": {"text": {"field": "txt"}}},
  {"data": {"name": "notes"}, "transform": [{"filter": "datum.p == 'c' && datum.k == 'curve'"}], "mark": {"type": "text", "align": "left", "baseline": "alphabetic", "fontSize": 27}, "encoding": {"text": {"field": "txt"}}},
  {"data": {"name": "notes"}, "transform": [{"filter": "datum.p == 'c' && datum.k == 'letter'"}], "mark": {"type": "text", "align": "left", "baseline": "alphabetic", "fontSize": 31, "fontStyle": "italic", "font": "Liberation Sans"}, "encoding": {"text": {"field": "txt"}}}
 ]
},
{
 "width": 418, "height": 312,
 "encoding": {
  "x": {"field": "t", "type": "quantitative", "title": "Time (years)", "scale": {"domain": [-0.08, 10.07], "nice": false, "zero": false},
        "axis": {"values": [0,0.5,1,1.5,2,2.5,3,3.5,4,4.5,5,5.5,6,6.5,7,7.5,8,8.5,9,9.5,10], "format": "d", "labelExpr": "datum.value % 1 === 0 ? datum.label : ''", "labelOverlap": false, "labelFont": "Liberation Sans", "labelFontWeight": "bold", "labelFontSize": 13, "tickSize": 5, "labelPadding": 2, "titleFont": "Open Sans", "titleFontSize": 20, "titleFontWeight": "bold", "titlePadding": 12}},
  "y": {"field": "s", "type": "quantitative", "title": "Overall Survival (%)", "scale": {"domain": [-1.3, 101.7], "nice": false, "zero": false},
        "axis": {"values": [0,10,20,30,40,50,60,70,80,90,100], "format": "d", "labelExpr": "datum.value % 20 === 0 ? datum.label : ''", "labelOverlap": false, "labelFont": "Liberation Sans", "labelFontWeight": "bold", "labelFontSize": 13, "tickSize": 5, "labelPadding": 2, "titleFont": "Liberation Sans", "titleFontSize": 22.5, "titleFontWeight": "bold", "titlePadding": 4}}
 },
 "layer": [
  {"data": {"name": "curves"}, "transform": [{"filter": "datum.p == 'd'"}], "mark": {"type": "line", "interpolate": "step-after", "color": "black", "strokeWidth": 2},
   "encoding": {"detail": {"field": "g"}, "strokeDash": {"field": "g", "type": "nominal", "legend": null, "scale": {"domain": ["le","gt"], "range": [[1,0],[6,3]]}}}},
  {"data": {"name": "cens"}, "transform": [{"filter": "datum.p == 'd'"}], "mark": {"type": "point", "shape": "circle", "filled": false, "stroke": "#222", "strokeWidth": 1.2, "size": 65}},
  {"data": {"name": "notes"}, "transform": [{"filter": "datum.p == 'd' && datum.k == 'title'"}], "mark": {"type": "text", "align": "right", "baseline": "alphabetic", "fontSize": 30, "lineBreak": "\n", "lineHeight": 27.5}, "encoding": {"text": {"field": "txt"}}},
  {"data": {"name": "notes"}, "transform": [{"filter": "datum.p == 'd' && datum.k == 'small'"}], "mark": {"type": "text", "align": "left", "baseline": "alphabetic", "fontSize": 24, "lineBreak": "\n", "lineHeight": 22}, "encoding": {"text": {"field": "txt"}}},
  {"data": {"name": "notes"}, "transform": [{"filter": "datum.p == 'd' && datum.k == 'letter'"}], "mark": {"type": "text", "align": "left", "baseline": "alphabetic", "fontSize": 31, "fontStyle": "italic", "font": "Liberation Sans"}, "encoding": {"text": {"field": "txt"}}}
 ]
},
{
 "width": 418, "height": 125, "view": {"stroke": null},
 "layer": [
  {"data": {"name": "risk"}, "transform": [{"filter": "datum.p == 'c'"}], "mark": {"type": "text", "fontSize": 19.5},
   "encoding": {"x": {"field": "col", "type": "quantitative", "scale": {"domain": [-5.607, 8.684], "nice": false, "zero": false}, "axis": null},
                "y": {"field": "row", "type": "quantitative", "scale": {"domain": [-2.44, 2.56], "nice": false, "zero": false, "reverse": true}, "axis": null},
                "text": {"field": "v", "type": "nominal"}}},
  {"data": {"name": "risk"}, "transform": [{"filter": "datum.p == 'c' && datum.row == 1"}], "mark": {"type": "text", "fontSize": 19.5, "fontWeight": "bold"},
   "encoding": {"x": {"field": "col", "type": "quantitative"}, "y": {"datum": -0.44, "type": "quantitative"}, "text": {"field": "col", "type": "nominal"}}},
  {"data": {"name": "rlab"}, "transform": [{"filter": "datum.p == 'c'"}], "mark": {"type": "text", "align": "left", "fontSize": 19.5},
   "encoding": {"x": {"datum": -5.45, "type": "quantitative"}, "y": {"field": "row", "type": "quantitative"}, "text": {"field": "lab", "type": "nominal"}}},
  {"data": {"name": "rlab"}, "transform": [{"filter": "datum.p == 'c' && datum.row == 1"}], "mark": {"type": "text", "text": "Number at risk", "fontSize": 18.5, "fontWeight": "bold"},
   "encoding": {"x": {"datum": -3.556, "type": "quantitative"}, "y": {"datum": -0.92, "type": "quantitative"}}},
  {"data": {"name": "rlab"}, "transform": [{"filter": "datum.p == 'c' && datum.row == 1"}], "mark": {"type": "text", "text": "at time (years)", "fontSize": 18.5, "fontWeight": "bold"},
   "encoding": {"x": {"datum": -3.556, "type": "quantitative"}, "y": {"datum": 0.04, "type": "quantitative"}}},
  {"data": {"name": "rlab"}, "transform": [{"filter": "datum.p == 'c' && datum.row == 1"}], "mark": {"type": "rule", "color": "#333", "strokeWidth": 1.5},
   "encoding": {"x": {"datum": -6.085, "type": "quantitative"}, "x2": {"datum": 9.06}, "y": {"datum": -1.44, "type": "quantitative"}}},
  {"data": {"name": "rlab"}, "transform": [{"filter": "datum.p == 'c' && datum.row == 1"}], "mark": {"type": "rule", "color": "#333", "strokeWidth": 1.5},
   "encoding": {"x": {"datum": -6.085, "type": "quantitative"}, "x2": {"datum": 9.06}, "y": {"datum": 0.52, "type": "quantitative"}}},
  {"data": {"name": "rlab"}, "transform": [{"filter": "datum.p == 'c' && datum.row == 1"}], "mark": {"type": "rule", "color": "#333", "strokeWidth": 1.5},
   "encoding": {"x": {"datum": -6.085, "type": "quantitative"}, "x2": {"datum": 9.06}, "y": {"datum": 2.52, "type": "quantitative"}}}
 ]
},
{
 "width": 418, "height": 125, "view": {"stroke": null},
 "layer": [
  {"data": {"name": "risk"}, "transform": [{"filter": "datum.p == 'd'"}], "mark": {"type": "text", "fontSize": 19.5},
   "encoding": {"x": {"field": "col", "type": "quantitative", "scale": {"domain": [-5.607, 8.684], "nice": false, "zero": false}, "axis": null},
                "y": {"field": "row", "type": "quantitative", "scale": {"domain": [-2.44, 2.56], "nice": false, "zero": false, "reverse": true}, "axis": null},
                "text": {"field": "v", "type": "nominal"}}},
  {"data": {"name": "risk"}, "transform": [{"filter": "datum.p == 'd' && datum.row == 1"}], "mark": {"type": "text", "fontSize": 19.5, "fontWeight": "bold"},
   "encoding": {"x": {"field": "col", "type": "quantitative"}, "y": {"datum": -0.44, "type": "quantitative"}, "text": {"field": "col", "type": "nominal"}}},
  {"data": {"name": "rlab"}, "transform": [{"filter": "datum.p == 'd'"}], "mark": {"type": "text", "align": "left", "fontSize": 19.5},
   "encoding": {"x": {"datum": -5.9, "type": "quantitative"}, "y": {"field": "row", "type": "quantitative"}, "text": {"field": "lab", "type": "nominal"}}},
  {"data": {"name": "rlab"}, "transform": [{"filter": "datum.p == 'd' && datum.row == 1"}], "mark": {"type": "text", "text": "Number at risk", "fontSize": 18.5, "fontWeight": "bold"},
   "encoding": {"x": {"datum": -3.556, "type": "quantitative"}, "y": {"datum": -0.92, "type": "quantitative"}}},
  {"data": {"name": "rlab"}, "transform": [{"filter": "datum.p == 'd' && datum.row == 1"}], "mark": {"type": "text", "text": "at time (years)", "fontSize": 18.5, "fontWeight": "bold"},
   "encoding": {"x": {"datum": -3.556, "type": "quantitative"}, "y": {"datum": 0.04, "type": "quantitative"}}},
  {"data": {"name": "rlab"}, "transform": [{"filter": "datum.p == 'd' && datum.row == 1"}], "mark": {"type": "rule", "color": "#333", "strokeWidth": 1.5},
   "encoding": {"x": {"datum": -6.085, "type": "quantitative"}, "x2": {"datum": 9.06}, "y": {"datum": -1.44, "type": "quantitative"}}},
  {"data": {"name": "rlab"}, "transform": [{"filter": "datum.p == 'd' && datum.row == 1"}], "mark": {"type": "rule", "color": "#333", "strokeWidth": 1.5},
   "encoding": {"x": {"datum": -6.085, "type": "quantitative"}, "x2": {"datum": 9.06}, "y": {"datum": 0.52, "type": "quantitative"}}},
  {"data": {"name": "rlab"}, "transform": [{"filter": "datum.p == 'd' && datum.row == 1"}], "mark": {"type": "rule", "color": "#333", "strokeWidth": 1.5},
   "encoding": {"x": {"datum": -6.085, "type": "quantitative"}, "x2": {"datum": 9.06}, "y": {"datum": 2.52, "type": "quantitative"}}}
 ]
}
]
}
